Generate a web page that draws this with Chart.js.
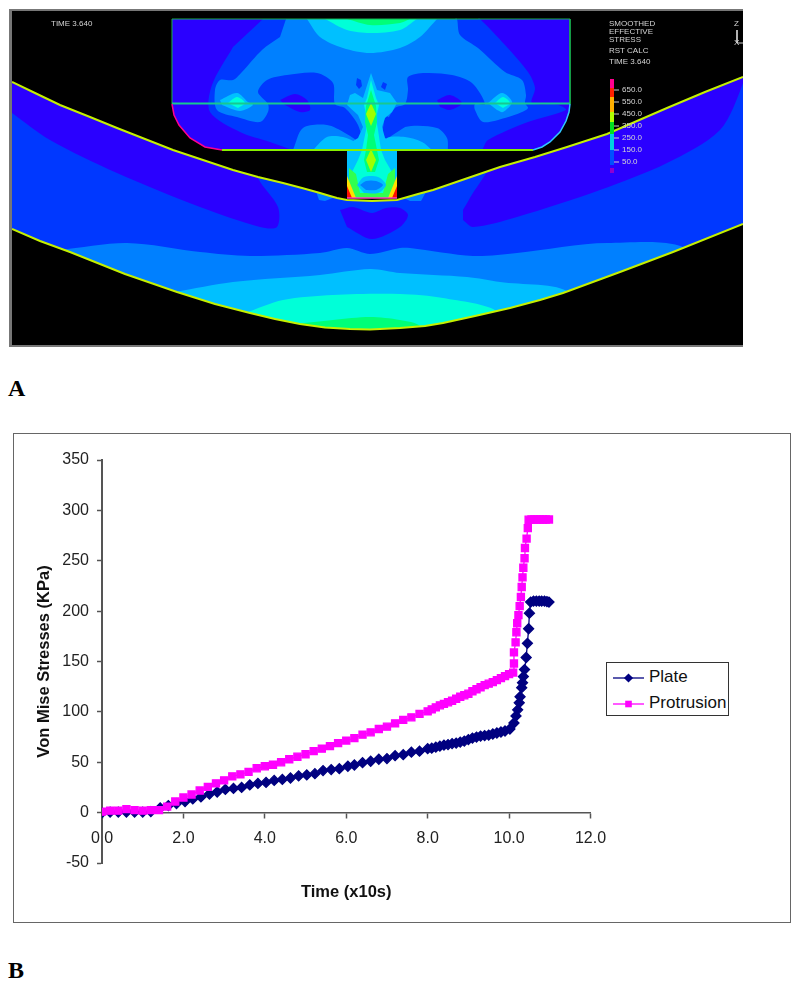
<!DOCTYPE html>
<html>
<head>
<meta charset="utf-8">
<title>Von Mise Stresses</title>
<script src="https://cdn.jsdelivr.net/npm/chart.js@4"></script>
<style>
  html, body { margin: 0; padding: 0; background: #fff; }
  body { position: relative; width: 800px; height: 986px; overflow: hidden; font-family: "Liberation Sans", Arial, sans-serif; }
  .abs { position: absolute; }
  canvas { position: absolute; display: block; }
  #femFrame { left: 9px; top: 9px; width: 731px; height: 334px; border: solid #777; border-width: 2px 0 2px 3px; background: #000; }
  #fem { left: 12px; top: 11px; }
  #frame { left: 13px; top: 433px; width: 776px; height: 488px; border: 1.5px solid #666; box-sizing: content-box; }
  #stress { left: 14px; top: 434px; }
  .panel { font: bold 24px "Liberation Serif", serif; color: #000; left: 8px; line-height: 24px; }
  .note { font-size: 8px; line-height: 8px; color: #d4d4d4; white-space: nowrap; }
  #legend { left: 606px; top: 662px; width: 121px; height: 52px; border: 1.5px solid #333; background: #fff; font-size: 17px; color: #111; }
  .row { position: absolute; left: 6px; height: 26px; line-height: 26px; white-space: nowrap; }
  .row svg { vertical-align: middle; margin-right: 5px; }
</style>
</head>
<body>
<div class="abs" id="femFrame"></div>
<canvas id="fem" width="731" height="334"></canvas>
<div class="abs panel" style="top:376px">A</div>
<div class="abs" id="frame"></div>
<canvas id="stress" width="776" height="488"></canvas>
<div class="abs" id="legend"></div>
<div class="abs panel" style="top:958px">B</div>
<script>
// stress curves
const plateTime = [0,0.2,0.4,0.6,0.8,1.0,1.2,1.43,1.63,1.83,2.04,2.23,2.43,2.64,2.83,3.03,3.23,3.43,3.63,3.83,4.03,4.23,4.43,4.63,4.83,5.03,5.23,5.43,5.63,5.83,6.04,6.2,6.4,6.6,6.8,7.0,7.2,7.4,7.6,7.8,8.0,8.1,8.2,8.3,8.4,8.5,8.6,8.7,8.8,8.9,9.0,9.1,9.2,9.3,9.4,9.5,9.6,9.7,9.8,9.9,10.02,10.12,10.17,10.21,10.25,10.27,10.31,10.33,10.35,10.38,10.42,10.45,10.48,10.5,10.53,10.6,10.67,10.74,10.8,10.87,10.93,10.98];
const plateStress = [0,0.5,0.5,0.5,0.5,0.5,1,4.6,7,9,11,13.6,15.6,18.5,20.5,23,24,25,27.5,29,30,32,33,34.4,36.4,37.4,38.7,41.7,42.7,43.6,46,47.3,49.6,51,53,53.6,56.5,57.5,60,61,63.5,64,65,66,67,67.5,68.5,69,70,71,72.5,74,75,76,76.5,77,78,79,80,81,83,89,96,102,109,115,124,129,135,142,154,168,182.5,198,209,210,210,210,210,210,209.5,209];
const protrusionTime = [0,0.2,0.4,0.6,0.8,1.0,1.2,1.4,1.6,1.8,2.0,2.2,2.4,2.6,2.8,3.0,3.2,3.4,3.6,3.8,4.0,4.2,4.4,4.6,4.8,5.0,5.2,5.4,5.6,5.8,6.0,6.2,6.4,6.6,6.8,7.0,7.2,7.4,7.6,7.8,8.0,8.1,8.2,8.3,8.4,8.5,8.6,8.7,8.8,8.9,9.0,9.1,9.2,9.3,9.4,9.5,9.6,9.7,9.8,9.9,10.0,10.1,10.12,10.12,10.16,10.18,10.2,10.23,10.26,10.29,10.31,10.33,10.35,10.38,10.39,10.43,10.46,10.48,10.55,10.62,10.69,10.76,10.83,10.9,10.98];
const protrusionStress = [1,2,2,3.5,2.5,2,2.5,2.5,6,11,15,18,22,25.5,29,32,36,38,40.5,44,46,47.5,50,53,55.5,58,61,63.5,66,69,71.5,74,77.4,79.7,83,85.3,88.6,92,94.6,98,100.5,102.5,104.5,106.5,108,109.5,111,113,115,116.5,118,120.5,122.5,124.5,126.5,128,129.5,131.5,133.5,135.5,137.5,139,148,159,169,179,188,196,205,214,224,233.5,243,252.5,262.6,272,282.4,290.7,291,291,291,291,291,291,291];
const xTicks = [0,2,4,6,8,10,12];
const yTicks = [-50,0,50,100,150,200,250,300,350];
const seriesNames = ["Plate", "Protrusion"];

// contour map, in page pixels
const plateUpper = [[12,82],[35,93],[60,105],[90,117],[117,128],[145,139],[173,150],[203,160],[233,170],[258,177],[283,183],[302,188],[320,193],[330,196],[337,198],[347,200],[372,201],[397,200],[404,198],[418,194],[433,190],[465,179],[500,167],[535,157],[567,147],[607,134],[637,121],[667,108],[705,92],[743,77]];
const plateLower = [[12,229],[40,241],[70,252],[125,274],[177,292],[215,304],[250,313],[275,319],[300,324],[325,327.5],[350,329],[370,329.5],[400,328],[425,326],[443,323],[475,316],[510,308],[540,300],[563,293],[620,272],[673,252],[743,224]];
const plateBase = [[12,60],[743,60],[743,340],[12,340]];
const plateDarkLeft = [[12,60],[257,160],[258,178],[278,207],[277,227],[260,227],[200,207],[117,173],[50,140],[12,113]];
const plateDarkRight = [[463,210],[477,187],[500,160],[743,70],[743,83],[720,130],[667,163],[600,190],[517,217],[473,227],[463,220]];
const plateDarkMiddle = [[340,210],[353,207],[372,213],[386,208],[400,208],[408,215],[400,227],[372,239],[347,227]];
const plateBandA = [[60,250],[127,243],[200,252],[250,256],[320,253],[347,248],[370,254],[400,248],[410,248],[473,256],[517,253],[607,243],[690,252],[690,340],[60,340]];
const plateBandB = [[175,292],[233,282],[320,275],[370,269],[400,273],[467,277],[500,282],[570,293],[570,340],[175,340]];
const plateBandC = [[245,313],[283,300],[333,295],[400,294],[443,298],[498,312],[498,340],[245,340]];
const plateBandD = [[295,324],[333,320],[370,317],[400,320],[420,326],[420,340],[295,340]];
const platePatchLeft = [[316,191],[335,197],[325,201],[319,200]];
const platePatchRight = [[404,198],[426,192],[421,201],[410,201]];

const bodyShape = [[172,19],[570,19],[570,104],[569,112],[566,121],[560,132],[550,142],[542,147],[533,150],[220,150],[205,147],[190,138],[179,125],[174,115],[172,104]];
const bodyBlue = [[263,19],[265,19],[478,19],[480,19],[505,45],[528,72],[535,88],[532,103],[558,105],[566,110],[528,122],[488,140],[482,150],[480,150],[295,150],[293,150],[270,142],[240,132],[210,112],[212,85],[233,47]];
const bodyLight = [[286,19],[288,19],[455,19],[457,19],[460,35],[478,48],[505,72],[522,80],[526,95],[525,103],[528,108],[522,112],[505,118],[483,122],[475,110],[475,104],[485,104],[472,83],[452,75],[425,73],[408,77],[408,90],[405,104],[395,108],[385,125],[375,150],[373,150],[367,150],[365,150],[358,125],[345,108],[335,104],[333,83],[317,73],[287,75],[267,80],[258,92],[268,104],[268,112],[260,122],[237,117],[217,110],[215,90],[220,80],[233,80],[242,72],[262,50],[280,37]];
const bodyLowerLeft = [[293,150],[303,128],[327,125],[345,133],[362,145],[362,150]];
const bodyLowerRight = [[380,150],[380,140],[405,127],[437,128],[447,138],[448,150]];
const holeLeft = [[280,100],[295,94],[307,100],[310,110],[300,112],[285,105]];
const holeRight = [[437,100],[450,95],[462,103],[450,110],[440,107]];
const wedgeRight = [[385,115],[405,127],[385,140],[383,128]];
const spotLeft = [[357,78],[361,80],[362,86],[359,89],[356,85]];
const spotRight = [[383,82],[387,84],[385,90],[381,87]];
const topRingA = [[307,19],[320,37],[343,48],[370,53],[400,48],[420,37],[437,19]];
const topRingB = [[325,19],[347,30],[370,33],[400,30],[417,19]];
const topRingC = [[347,19],[370,25],[400,23],[410,19]];
const lobeLeftOuter = [[220,100],[237,93],[248,102],[253,105],[240,111],[222,105]];
const lobeLeftInner = [[228,103],[237,97],[245,103],[238,108]];
const lobeRightOuter = [[488,103],[502,93],[512,102],[503,112],[497,110]];
const lobeRightInner = [[495,103],[503,97],[510,103],[503,108]];
const humpLeft = [[313,150],[327,137],[343,137],[357,143],[365,150]];
const humpRight = [[378,150],[387,138],[405,137],[422,142],[432,150]];
const columnOuter = [[371,73],[377,90],[390,93],[397,103],[392,112],[385,118],[382,127],[385,138],[397,145],[403,150],[397,150],[397,198],[347,198],[347,150],[337,150],[347,145],[358,138],[363,127],[358,115],[347,105],[350,95],[355,93],[363,98]];
const columnMiddle = [[371,80],[376,98],[379,105],[376,118],[378,130],[381,150],[385,160],[392,172],[394,198],[350,198],[352,172],[358,160],[362,150],[366,130],[367,118],[364,105],[367,98]];
const columnInner = [[371,90],[376,106],[377,122],[374,135],[377,150],[379,160],[375,172],[367,172],[364,160],[366,150],[368,135],[365,122],[366,106]];
const columnCoreTop = [[371,103],[376,114],[371,126],[366,114]];
const columnCoreLow = [[371,149],[376,160],[371,172],[366,160]];
const stemFloor = [[349,198],[349,168],[356,174],[360,193],[383,193],[388,174],[395,168],[395,198]];
const stemOvalOuter = [[357,185],[364,177],[378,177],[386,185],[378,193],[364,193]];
const stemOvalInner = [[360,185],[366,181],[376,181],[383,185],[376,190],[366,190]];
const cornerYellowLeft = [[347,198],[347,176],[356,198]];
const cornerRedLeft = [[347,198],[347,186],[352,198]];
const cornerYellowRight = [[397,198],[397,176],[388,198]];
const cornerRedRight = [[397,198],[397,186],[392,198]];
const topEdge = [[172,104],[172,19],[570,19],[570,104]];
const midLine = [[172,103.5],[570,103.5]];
const lowLine = [[222,150],[533,150]];
const arcLeft = [[172,104],[174,115],[179,125],[190,138],[205,147],[222,150]];
const arcRight = [[570,104],[569,112],[566,121],[560,132],[550,142],[542,147],[533,150]];
const stemBase = [[347,198],[397,198]];

const barEdges = [79,88,97,112,122,134,150,165];
const barLabels = ["650.0","550.0","450.0","350.0","250.0","150.0","50.0"];
const barLabelY = [90,102,114,126,138,150,162];
const femNotes = [["TIME 3.640",51,24],["SMOOTHED",609,24],["EFFECTIVE",609,32],["STRESS",609,40],["RST CALC",609,51],["TIME 3.640",609,62],["Z",734,24],["X",734,43]];

const level = { dark: "#2a00ff", blue: "#0038ff", light: "#0080ff", sky: "#00c0ff", aqua: "#00ffd8", mint: "#00ff78", green: "#30ff50", lime: "#a0ff00", yellow: "#ffe000", red: "#ff1000" };
const barColors = ["#ff0090","#ff2000","#ffb000","#b0ff00","#00e020","#00d0e0","#0050ff"];

function toPoints(list) { return list.map(p => ({ x: p[0], y: p[1] })); }
function region(list, color, tension) {
  return { data: toPoints(list), showLine: true, fill: "shape", backgroundColor: color, borderColor: color, borderWidth: 0, pointRadius: 0, tension: tension || 0 };
}
function outline(list, color, width) {
  return { data: toPoints(list), showLine: true, fill: false, borderColor: color, borderWidth: width, pointRadius: 0, tension: 0 };
}

const soft = 0.3;
const layers = [
  region(plateBase, level.blue),
  region(plateDarkLeft, level.dark, soft),
  region(plateDarkRight, level.dark, soft),
  region(plateDarkMiddle, level.dark, soft),
  region(platePatchLeft, level.light),
  region(platePatchRight, level.light),
  region(plateBandA, level.light, soft),
  region(plateBandB, level.sky, soft),
  region(plateBandC, level.aqua, soft),
  region(plateBandD, level.mint, soft),
  region(plateUpper.concat([[743,11],[12,11]]), "#000"),
  region(plateLower.concat([[743,345],[12,345]]), "#000"),
  outline(plateUpper, "#c4f000", 2),
  outline(plateLower, "#c4f000", 2),
  region(bodyShape, level.dark),
  region(bodyBlue, level.blue, soft),
  region(bodyLight, level.light, soft),
  region(bodyLowerLeft, level.light, soft),
  region(bodyLowerRight, level.light, soft),
  region(holeLeft, level.dark, soft),
  region(holeRight, level.dark, soft),
  region(wedgeRight, level.blue),
  region(spotLeft, level.blue),
  region(spotRight, level.blue),
  region(topRingA, level.sky, soft),
  region(topRingB, level.aqua, soft),
  region(topRingC, level.mint, soft),
  region(lobeLeftOuter, level.sky, soft),
  region(lobeLeftInner, level.aqua, soft),
  region(lobeRightOuter, level.sky, soft),
  region(lobeRightInner, level.aqua, soft),
  region(humpLeft, level.sky, soft),
  region(humpRight, level.sky, soft),
  region(columnOuter, level.sky),
  region(columnMiddle, level.aqua),
  region(stemFloor, level.green),
  region(columnInner, level.mint),
  region(columnCoreTop, level.lime),
  region(columnCoreLow, level.lime),
  region(stemOvalOuter, level.sky, soft),
  region(stemOvalInner, level.light, soft),
  region(cornerYellowLeft, level.yellow),
  region(cornerRedLeft, level.red),
  region(cornerYellowRight, level.yellow),
  region(cornerRedRight, level.red),
  outline(topEdge, "#18b050", 1),
  outline(midLine, "#18c890", 2),
  outline(lowLine, "#88f000", 2),
  outline(arcLeft, "#ff0090", 1.5),
  outline(arcRight, "#30c8ff", 1.5),
  outline(stemBase, "#ff40c0", 1.5),
  outline([[737,30],[737,43]], "#ccc", 1),
  outline([[737,43],[743,43]], "#ccc", 1)
];
barColors.forEach((color, i) => {
  const top = barEdges[i], bottom = barEdges[i + 1];
  layers.push(region([[610,top],[614,top],[614,bottom],[610,bottom]], color));
});
layers.push(region([[610,168],[614,168],[614,173],[610,173]], "#9000d0"));
barLabelY.forEach(y => layers.push(outline([[614,y],[619,y]], "#d0d0d0", 1)));

// first dataset is painted last, so flip the back to front list
new Chart(document.getElementById("fem"), {
  type: "scatter",
  data: { datasets: layers.slice().reverse() },
  options: {
    responsive: false,
    animation: false,
    events: [],
    layout: { padding: 0 },
    plugins: { legend: { display: false }, tooltip: { enabled: false } },
    scales: {
      x: { display: false, min: 12, max: 743 },
      y: { display: false, min: 11, max: 345, reverse: true }
    }
  }
});

new Chart(document.getElementById("stress"), {
  type: "scatter",
  data: {
    datasets: [
      { label: seriesNames[0], data: plateTime.map((t, i) => ({ x: t, y: plateStress[i] })), showLine: true, order: 2, borderColor: "#000080", backgroundColor: "#000080", borderWidth: 1.3, pointStyle: "rectRot", pointRadius: 5, tension: 0 },
      { label: seriesNames[1], data: protrusionTime.map((t, i) => ({ x: t, y: protrusionStress[i] })), showLine: true, order: 1, borderColor: "#ff00ff", backgroundColor: "#ff00ff", borderWidth: 1.3, pointStyle: "rect", pointRadius: 5, tension: 0 }
    ]
  },
  options: {
    responsive: false,
    animation: false,
    events: [],
    layout: { padding: { left: 0, right: 199.5, top: 26, bottom: 59 } },
    plugins: { legend: { display: false }, tooltip: { enabled: false } },
    scales: {
      x: {
        type: "linear",
        min: 0,
        max: 12,
        position: { y: 0 },
        afterFit: s => { s.height = 0; },
        afterBuildTicks: s => { s.ticks = xTicks.map(v => ({ value: v })); },
        grid: { drawOnChartArea: false, tickLength: 5, tickColor: "#555", tickWidth: 1.5 },
        border: { color: "#555", width: 1.5 },
        ticks: { padding: 11, maxRotation: 0, autoSkip: false, color: "#222", font: { family: "Liberation Sans", size: 16 }, callback: v => v.toFixed(1) },
        title: { display: true, text: "Time (x10s)", color: "#111", font: { family: "Liberation Sans", size: 16.5, weight: "bold" }, padding: { top: 0, bottom: -90 } }
      },
      y: {
        type: "linear",
        min: -50,
        max: 350,
        position: "left",
        afterFit: s => { s.width = 88; },
        afterBuildTicks: s => { s.ticks = yTicks.map(v => ({ value: v })); },
        grid: { drawOnChartArea: false, tickLength: 5, tickColor: "#555", tickWidth: 1.5 },
        border: { color: "#555", width: 2 },
        ticks: { padding: 8, autoSkip: false, color: "#222", font: { family: "Liberation Sans", size: 16 } },
        title: { display: true, text: "Von Mise Stresses (KPa)", color: "#111", font: { family: "Liberation Sans", size: 16.5, weight: "bold" }, padding: { top: 21, bottom: 0 } }
      }
    }
  }
});

// small labels on the contour map
femNotes.forEach(n => addNote(n[0], n[1], n[2]));
barLabels.forEach((t, i) => addNote(t, 622, barLabelY[i]));
function addNote(text, x, y) {
  const el = document.createElement("div");
  el.className = "abs note";
  el.textContent = text;
  el.style.left = x + "px";
  el.style.top = (y - 4) + "px";
  document.body.appendChild(el);
}

// legend box with line and marker swatches
const swatches = [
  '<svg width="31" height="12"><line x1="0" y1="6" x2="31" y2="6" stroke="#000080" stroke-width="1.3"/><path d="M15.5 1.4 L20.1 6 L15.5 10.6 L10.9 6 Z" fill="#000080"/></svg>',
  '<svg width="31" height="12"><line x1="0" y1="6" x2="31" y2="6" stroke="#ff00ff" stroke-width="1.3"/><rect x="12.2" y="2.7" width="6.6" height="6.6" fill="#ff00ff"/></svg>'
];
seriesNames.forEach((name, i) => {
  const row = document.createElement("div");
  row.className = "row";
  row.style.top = (i * 26 + 1) + "px";
  row.innerHTML = swatches[i] + name;
  document.getElementById("legend").appendChild(row);
});
</script>
</body>
</html>
